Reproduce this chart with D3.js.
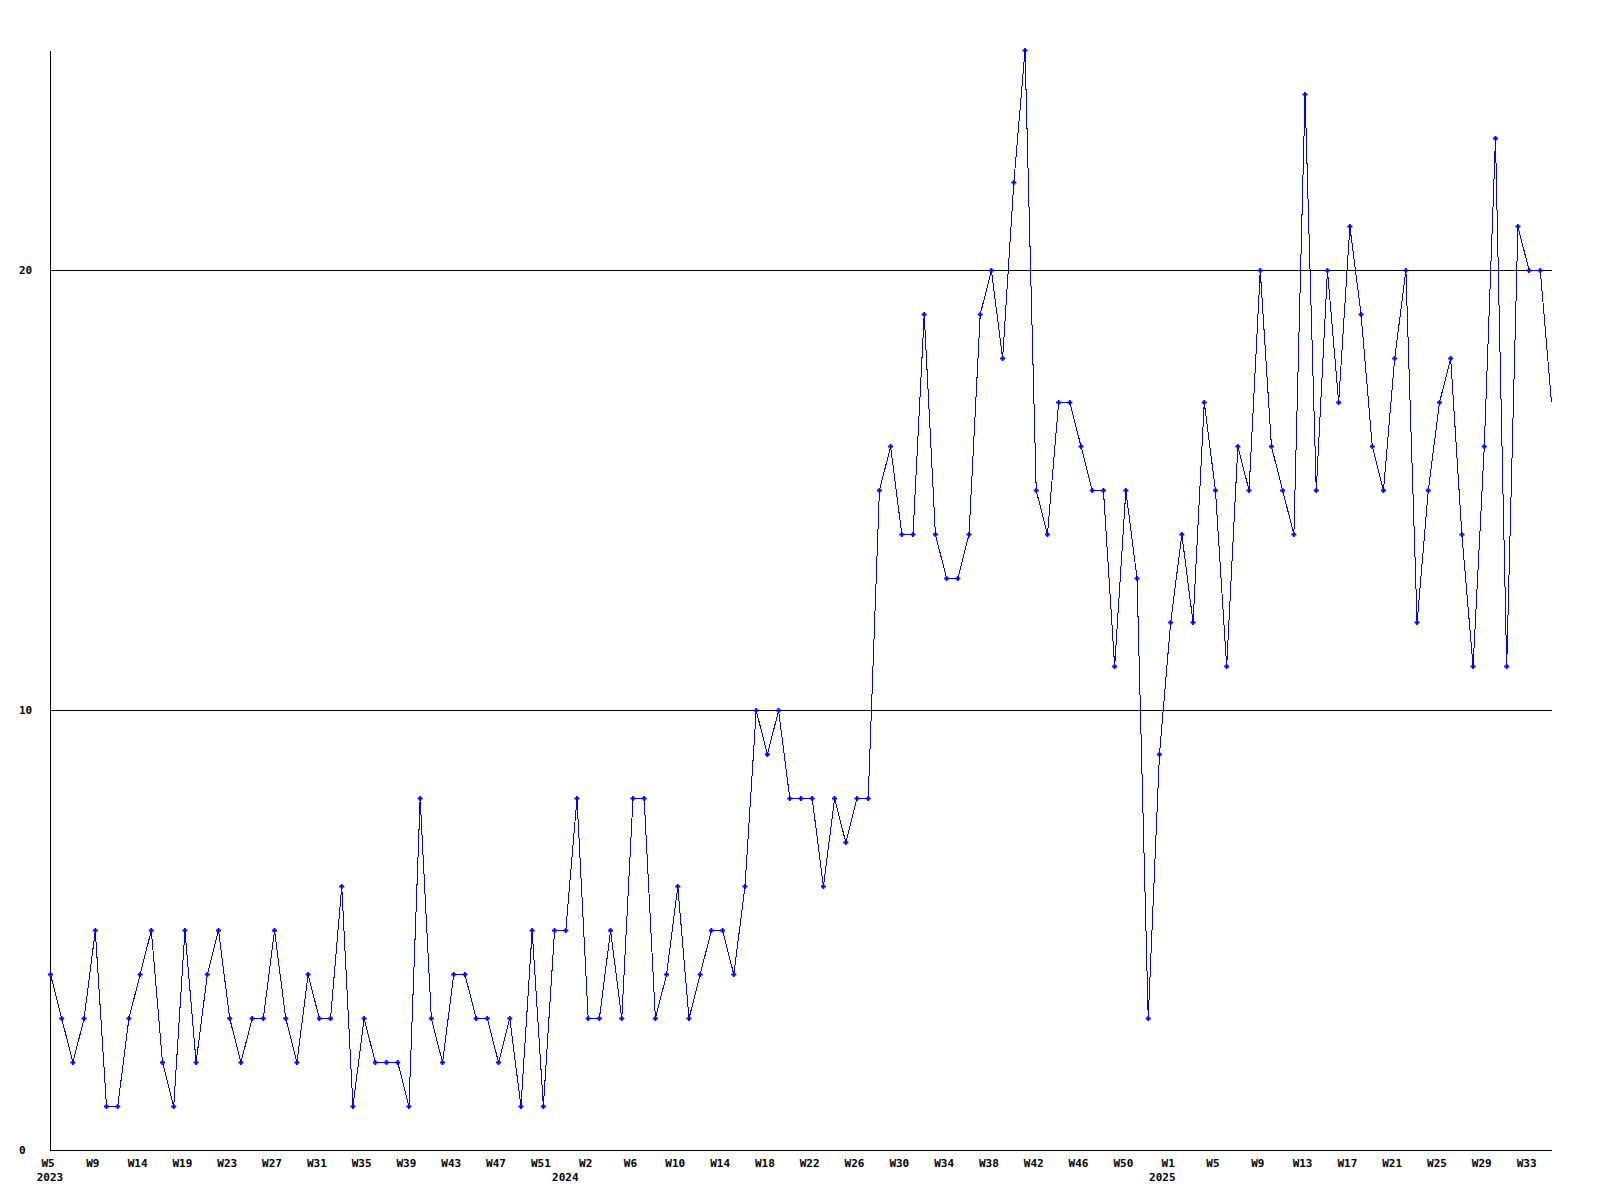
<!DOCTYPE html>
<html>
<head>
<meta charset="utf-8">
<script src="https://cdn.jsdelivr.net/npm/d3@7/dist/d3.min.js"></script>
<style>
  html, body { margin: 0; padding: 0; background: #ffffff; }
  svg { display: block; }
  text { font-family: "DejaVu Sans Mono", "Liberation Mono", monospace; font-weight: bold; font-size: 11px; fill: #000; }
</style>
</head>
<body>
<svg id="chart" width="1600" height="1200"></svg>
<script>
// Weekly counts, one per week, from 2023 W5 onward
const values = [
  4, 3, 2, 3, 5, 1, 1, 3, 4, 5, 2, 1, 5, 2, 4, 5, 3, 2, 3, 3,
  5, 3, 2, 4, 3, 3, 6, 1, 3, 2, 2, 2, 1, 8, 3, 2, 4, 4, 3, 3,
  2, 3, 1, 5, 1, 5, 5, 8, 3, 3, 5, 3, 8, 8, 3, 4, 6, 3, 4, 5,
  5, 4, 6, 10, 9, 10, 8, 8, 8, 6, 8, 7, 8, 8, 15, 16, 14, 14, 19, 14,
  13, 13, 14, 19, 20, 18, 22, 25, 15, 14, 17, 17, 16, 15, 15, 11, 15, 13, 3, 9,
  12, 14, 12, 17, 15, 11, 16, 15, 20, 16, 15, 14, 24, 15, 20, 17, 21, 19, 16, 15,
  18, 20, 12, 15, 17, 18, 14, 11, 16, 23, 11, 21, 20, 20, 17
];

// Week tick labels, one every 4th point
const tickLabels = [
  "W5", "W9", "W14", "W19", "W23", "W27", "W31", "W35", "W39", "W43", "W47", "W51",
  "W2", "W6", "W10", "W14", "W18", "W22", "W26", "W30", "W34", "W38", "W42", "W46", "W50",
  "W1", "W5", "W9", "W13", "W17", "W21", "W25", "W29", "W33"
];
const tickStep = 4;

// Year labels and the point index they sit under
const yearLabels = ["2023", "2024", "2025"];
const yearIndex = [0, 46, 99.3];

// Y axis ticks / grid
const yTicks = [0, 10, 20];
const yGrid = [10, 20];
const yMax = 25;

(function () {
  const svg = d3.select("#chart");
  const pLeft = 50, pRight = 1551, pTop = 50, pBottom = 1150;

  const x = d3.scaleLinear().domain([0, values.length - 1]).range([pLeft, pRight]);
  const y = d3.scaleLinear().domain([0, yMax]).range([pBottom, pTop]);

  const g = svg.append("g").attr("transform", "translate(0.5,0.5)");

  // grid lines
  g.selectAll("line.grid").data(yGrid).enter().append("line")
    .attr("class", "grid")
    .attr("x1", pLeft).attr("x2", pRight)
    .attr("y1", d => Math.round(y(d))).attr("y2", d => Math.round(y(d)))
    .attr("stroke", "#000").attr("stroke-width", 1)
    .attr("shape-rendering", "crispEdges");

  // axis lines
  g.append("line").attr("x1", pLeft).attr("x2", pLeft).attr("y1", pTop).attr("y2", pBottom)
    .attr("stroke", "#000").attr("shape-rendering", "crispEdges");
  g.append("line").attr("x1", pLeft).attr("x2", pRight).attr("y1", pBottom).attr("y2", pBottom)
    .attr("stroke", "#000").attr("shape-rendering", "crispEdges");

  // y labels
  svg.selectAll("text.ylab").data(yTicks).enter().append("text")
    .attr("class", "ylab")
    .attr("x", 19)
    .attr("y", d => Math.round(y(d)) + 4)
    .text(d => d);

  // x week labels
  svg.selectAll("text.xlab").data(tickLabels).enter().append("text")
    .attr("class", "xlab")
    .attr("x", (d, i) => x(i * tickStep) - 2)
    .attr("y", 1166.5)
    .attr("text-anchor", "middle")
    .text(d => d);

  // year labels
  svg.selectAll("text.year").data(yearLabels).enter().append("text")
    .attr("class", "year")
    .attr("x", (d, i) => x(yearIndex[i]))
    .attr("y", 1181)
    .attr("text-anchor", "middle")
    .text(d => d);

  // data line
  const line = d3.line().x((d, i) => x(i)).y(d => y(d));
  g.append("path")
    .datum(values)
    .attr("d", line)
    .attr("fill", "none")
    .attr("stroke", "#0000ff")
    .attr("stroke-width", 1)
    .attr("shape-rendering", "crispEdges");

  // point markers (the last point, at the plot edge, shows none)
  g.selectAll("path.mark").data(values.slice(0, values.length - 1)).enter().append("path")
    .attr("class", "mark")
    .attr("transform", (d, i) => `translate(${x(i)},${y(d)})`)
    .attr("d", "M-2.5,0H2.5M0,-2.5V2.5")
    .attr("stroke", "#0000ff")
    .attr("stroke-width", 1.8)
    .attr("fill", "none");
})();
</script>
</body>
</html>
